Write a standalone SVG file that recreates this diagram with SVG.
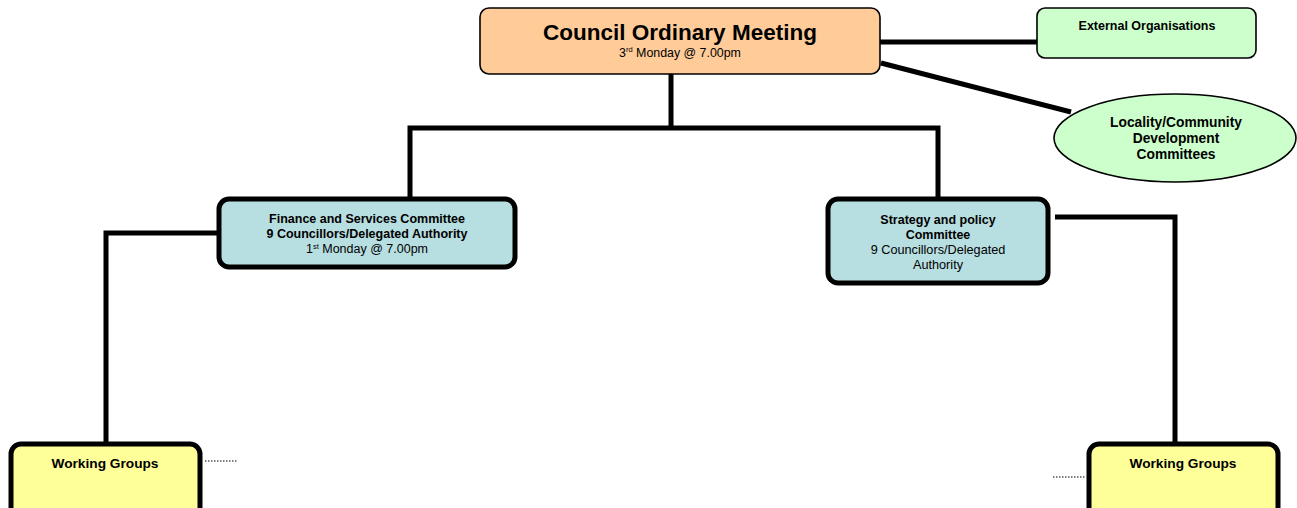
<svg xmlns="http://www.w3.org/2000/svg" width="1297" height="508" viewBox="0 0 1297 508">
<style>
text{font-family:"Liberation Sans",Arial,sans-serif;fill:#000;text-anchor:middle}
.b{font-weight:bold}
.thin{stroke:#000;stroke-width:1.6}
.thick{stroke:#000;stroke-width:5}
.conn{stroke:#000;stroke-width:5;fill:none}
.dot{stroke:#000;stroke-width:1;stroke-dasharray:1.5 1.5;fill:none}
</style>
<rect width="1297" height="508" fill="#fff"/>
<g id="connectors">
<line class="conn" x1="880" y1="42" x2="1037" y2="42"/>
<line class="conn" x1="881" y1="63" x2="1071" y2="112"/>
<polyline class="conn" points="671,74 671,128"/>
<polyline class="conn" points="410,200 410,128 938,128 938,200"/>
<polyline class="conn" points="218,233 106,233 106,443"/>
<polyline class="conn" points="1055,217 1175,217 1175,443"/>
<line class="dot" x1="205" y1="461" x2="237" y2="461"/>
<line class="dot" x1="1053" y1="477" x2="1086" y2="477"/>
</g>
<g id="council">
<rect class="thin" x="480" y="8" width="400" height="66" rx="9" fill="#FFCC99"/>
<text class="b" x="680" y="40" font-size="22.5">Council Ordinary Meeting</text>
<text x="680" y="56.5" font-size="12.4">3<tspan font-size="7.5" dy="-4.5">rd</tspan><tspan dy="4.5"> Monday @ 7.00pm</tspan></text>
</g>
<g id="external">
<rect class="thin" x="1037" y="8" width="219" height="50" rx="8" fill="#CCFFCC"/>
<text class="b" x="1147" y="30" font-size="12.5">External Organisations</text>
</g>
<g id="locality">
<ellipse class="thin" cx="1175" cy="138" rx="121" ry="44" fill="#CCFFCC"/>
<text class="b" x="1176" y="127" font-size="13.8">Locality/Community</text>
<text class="b" x="1176" y="143" font-size="13.8">Development</text>
<text class="b" x="1176" y="159" font-size="13.8">Committees</text>
</g>
<g id="finance">
<rect class="thick" x="219" y="199" width="296" height="68" rx="10" fill="#B7DEE0"/>
<text class="b" x="367" y="222.5" font-size="12.5">Finance and Services Committee</text>
<text class="b" x="367" y="237.5" font-size="12.5">9 Councillors/Delegated Authority</text>
<text x="367" y="253" font-size="12.5">1<tspan font-size="7.5" dy="-4.5">st</tspan><tspan dy="4.5"> Monday @ 7.00pm</tspan></text>
</g>
<g id="strategy">
<rect class="thick" x="828" y="199" width="220" height="84" rx="10" fill="#B7DEE0"/>
<text class="b" x="938" y="223.5" font-size="12.5">Strategy and policy</text>
<text class="b" x="938" y="238.5" font-size="12.5">Committee</text>
<text x="938" y="253.5" font-size="12.7">9 Councillors/Delegated</text>
<text x="938" y="268.5" font-size="12.7">Authority</text>
</g>
<g id="wg-left">
<rect class="thick" x="11" y="444" width="189" height="80" rx="10" fill="#FFFF99"/>
<text class="b" x="105" y="468" font-size="13.7">Working Groups</text>
</g>
<g id="wg-right">
<rect class="thick" x="1089" y="444" width="189" height="80" rx="10" fill="#FFFF99"/>
<text class="b" x="1183" y="468" font-size="13.7">Working Groups</text>
</g>
</svg>
